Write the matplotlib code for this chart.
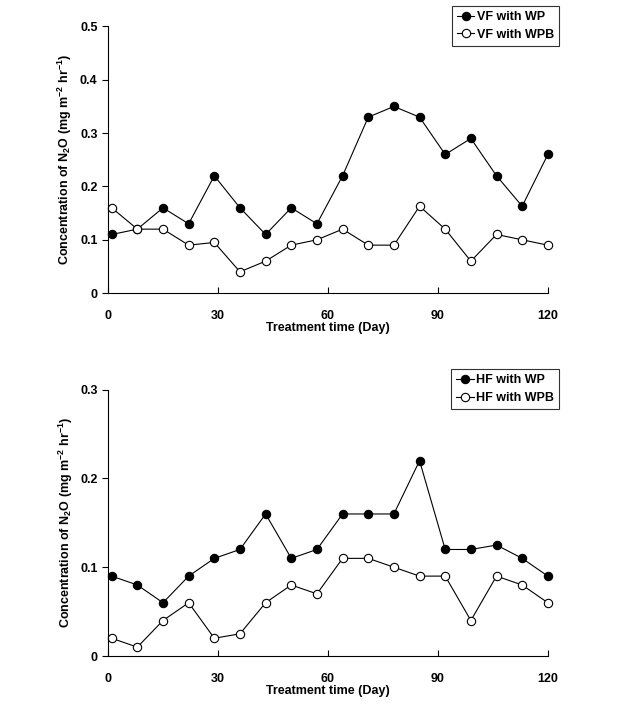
import matplotlib
matplotlib.use('Agg')
import matplotlib.pyplot as plt

plt.rcParams['font.family'] = ['Liberation Sans', 'DejaVu Sans']
plt.rcParams['font.weight'] = 'bold'
plt.rcParams['mathtext.fontset'] = 'custom'
plt.rcParams['mathtext.rm'] = 'Liberation Sans:bold'
plt.rcParams['mathtext.bf'] = 'Liberation Sans:bold'
plt.rcParams['mathtext.default'] = 'bf'

# 处理天数
days = [1, 8, 15, 22, 29, 36, 43, 50, 57, 64, 71, 78, 85, 92, 99, 106, 113, 120]

# 上图：VF
vf_wp = [0.11, 0.12, 0.16, 0.13, 0.22, 0.16, 0.11, 0.16, 0.13, 0.22,
         0.33, 0.35, 0.33, 0.26, 0.29, 0.22, 0.163, 0.26]
vf_wpb = [0.16, 0.12, 0.12, 0.09, 0.095, 0.04, 0.06, 0.09, 0.10, 0.12,
          0.09, 0.09, 0.163, 0.12, 0.06, 0.11, 0.10, 0.09]

# 下图：HF
hf_wp = [0.09, 0.08, 0.06, 0.09, 0.11, 0.12, 0.16, 0.11, 0.12, 0.16,
         0.16, 0.16, 0.22, 0.12, 0.12, 0.125, 0.11, 0.09]
hf_wpb = [0.02, 0.01, 0.04, 0.06, 0.02, 0.025, 0.06, 0.08, 0.07, 0.11,
          0.11, 0.10, 0.09, 0.09, 0.04, 0.09, 0.08, 0.06]

x_ticks = [0, 30, 60, 90, 120]
ylabel = 'Concentration of N$_{2}$O (mg m$^{-2}$ hr$^{-1}$)'


def draw_panel(ax, y_wp, y_wpb, names, ymax, yticks, yticklabels):
    ax.plot(days, y_wp, color='black', lw=0.8, marker='o', ms=6,
            mfc='black', mec='black', mew=0.8, label=names[0], clip_on=False)
    ax.plot(days, y_wpb, color='black', lw=0.8, marker='o', ms=6,
            mfc='white', mec='black', mew=0.8, label=names[1], clip_on=False)
    ax.set_xlim(0, 120)
    ax.set_ylim(0, ymax)
    ax.set_xticks(x_ticks)
    ax.set_yticks(yticks)
    ax.set_yticklabels(yticklabels)
    ax.spines['top'].set_visible(False)
    ax.spines['right'].set_visible(False)
    ax.tick_params(axis='x', direction='in', length=4, labelsize=9, pad=12)
    ax.tick_params(axis='y', direction='out', length=4, labelsize=9)
    for lab in ax.get_xticklabels() + ax.get_yticklabels():
        lab.set_fontweight('bold')
    ax.set_xlabel('Treatment time (Day)', fontsize=9, fontweight='bold', labelpad=0)
    ax.set_ylabel(ylabel, fontsize=9, fontweight='bold', labelpad=4)
    leg = ax.legend(loc='upper right', bbox_to_anchor=(1.04, 1.10),
                    frameon=True, fancybox=False, edgecolor='black',
                    handlelength=1.4, handletextpad=0.2, borderpad=0.4,
                    labelspacing=0.45, prop={'weight': 'bold', 'size': 9})
    leg.get_frame().set_linewidth(0.8)


fig = plt.figure(figsize=(6.43, 7.15), dpi=100)
ax1 = fig.add_axes([0.168, 0.590, 0.684, 0.373])
ax2 = fig.add_axes([0.168, 0.0825, 0.684, 0.3725])

draw_panel(ax1, vf_wp, vf_wpb, ['VF with WP', 'VF with WPB'], 0.5,
           [0, 0.1, 0.2, 0.3, 0.4, 0.5], ['0', '0.1', '0.2', '0.3', '0.4', '0.5'])
draw_panel(ax2, hf_wp, hf_wpb, ['HF with WP', 'HF with WPB'], 0.3,
           [0, 0.1, 0.2, 0.3], ['0', '0.1', '0.2', '0.3'])

plt.savefig('out.png', dpi=100)
plt.close()
